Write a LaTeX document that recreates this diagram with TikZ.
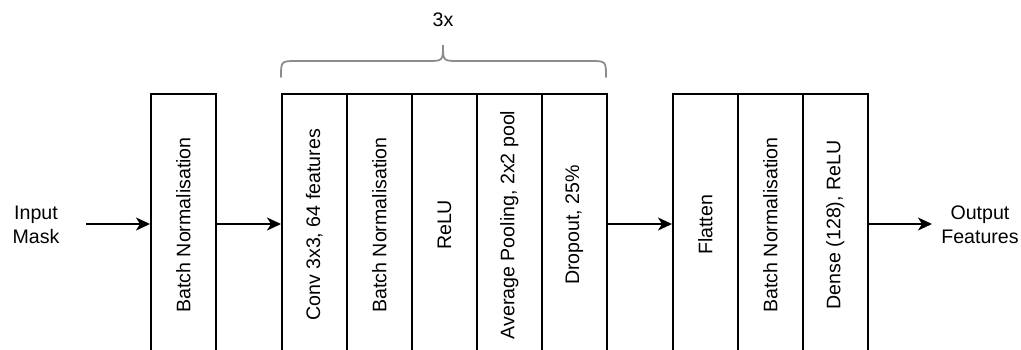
\documentclass[tikz,border=0pt]{standalone}
\usepackage{fontspec}
\setmainfont{Liberation Sans}
\usetikzlibrary{arrows.meta}
\begin{document}
\begin{tikzpicture}[x=1pt,y=-1pt,
  layer/.style={draw=black,line width=1.8pt,minimum width=65pt,minimum height=262pt,anchor=north west,inner sep=0pt},
  lbl/.style={rotate=90,font=\fontsize{19.6}{23}\selectfont},
  conn/.style={line width=1.8pt,-{Stealth[length=14pt,width=13pt,inset=4pt]}},
  txt/.style={align=center,font=\fontsize{19.6}{24}\selectfont,inner sep=0pt}]
\useasboundingbox (0,0) rectangle (1021,349);
% input
\node[txt] (inp) at (36,225) {Input\\Mask};
\coordinate (inpstart) at (86,224);
% boxes
\node[layer] (bn1) at (150,93) {};
\node[lbl] at (bn1.center) {Batch Normalisation};
\node[layer] (conv) at (281,93) {};
\node[lbl] at (conv.center) {Conv 3x3, 64 features};
\node[layer] (bn2) at (346,93) {};
\node[lbl] at (bn2.center) {Batch Normalisation};
\node[layer] (relu) at (411,93) {};
\node[lbl] at (relu.center) {ReLU};
\node[layer] (pool) at (476,93) {};
\node[lbl] at (pool.center) {Average Pooling, 2x2 pool};
\node[layer] (drop) at (541,93) {};
\node[lbl] at (drop.center) {Dropout, 25\%};
\node[layer] (flat) at (672,93) {};
\node[lbl] at (flat.center) {Flatten};
\node[layer] (bn3) at (737,93) {};
\node[lbl] at (bn3.center) {Batch Normalisation};
\node[layer] (dense) at (802,93) {};
\node[lbl] at (dense.center) {Dense (128), ReLU};
% output
\node[txt] (outp) at (980,225) {Output\\Features};
\coordinate (outend) at (932,224);
% connectors
\draw[conn] (inpstart) -- (inpstart -| bn1.west);
\draw[conn] (bn1.east |- inpstart) -- (conv.west |- inpstart);
\draw[conn] (drop.east |- inpstart) -- (flat.west |- inpstart);
\draw[conn] (dense.east |- inpstart) -- (outend);
% brace
\draw[line width=1.8pt,draw=black!45,line cap=round]
  (281,77) .. controls (281,61) .. (297,61) -- (427,61)
  .. controls (443,61) .. (443,45)
  .. controls (443,61) .. (459,61) -- (590,61)
  .. controls (606,61) .. (606,77);
\node[txt] (rep) at (443,20) {3x};
\end{tikzpicture}
\end{document}
